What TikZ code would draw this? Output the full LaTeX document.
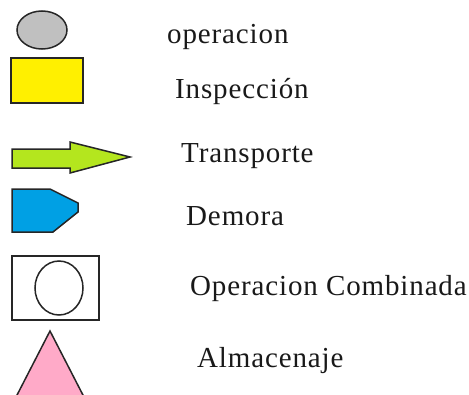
\documentclass[tikz,border=0pt]{standalone}
\usepackage{fontspec}
\setmainfont{Liberation Serif}[LetterSpace=3]
\usetikzlibrary{shapes.geometric}
\definecolor{opgray}{RGB}{192,192,192}
\definecolor{inspyellow}{RGB}{255,240,0}
\definecolor{transgreen}{RGB}{180,230,30}
\definecolor{delayblue}{RGB}{0,160,228}
\definecolor{storepink}{RGB}{255,170,200}
\tikzset{
  symbol/.style={draw=black!85, line width=1.5pt, line join=miter},
  legendtext/.style={anchor=base west, inner sep=0pt, font=\fontsize{29}{34}\selectfont, text=black!90}
}
\begin{document}
\begin{tikzpicture}[x=1pt,y=-1pt]
\useasboundingbox (0,0) rectangle (469,394);
% operation
\node[symbol, ellipse, fill=opgray, minimum width=50pt, minimum height=38pt, inner sep=0pt] (oper) at (42,30) {};
% inspection
\node[symbol, rectangle, fill=inspyellow, minimum width=72pt, minimum height=45pt, inner sep=0pt] (insp) at (47,80.5) {};
% transport arrow
\draw[symbol, fill=transgreen] (12,149) -- (70,149) -- (70,142) -- (130,157) -- (70,173) -- (70,168) -- (12,168) -- cycle;
% delay
\draw[symbol, fill=delayblue] (12,189) -- (50,189) -- (78,203) -- (78,212) -- (53,232) -- (12,232) -- cycle;
% combined operation
\node[symbol, rectangle, fill=white, minimum width=87pt, minimum height=64pt, inner sep=0pt] (comb) at (55.5,288) {};
\node[symbol, ellipse, minimum width=48pt, minimum height=54pt, inner sep=0pt] (combc) at (59,288) {};
% storage
\draw[symbol, fill=storepink] (50,331) -- (84.5,398) -- (15.5,398) -- cycle;
% labels
\node[legendtext] (t1) at (167,43) {operacion};
\node[legendtext] (t2) at (175,98) {Inspección};
\node[legendtext] (t3) at (181,162) {Transporte};
\node[legendtext] (t4) at (186,225) {Demora};
\node[legendtext] (t5) at (190,295) {Operacion Combinada};
\node[legendtext] (t6) at (197,367) {Almacenaje};
\end{tikzpicture}
\end{document}
